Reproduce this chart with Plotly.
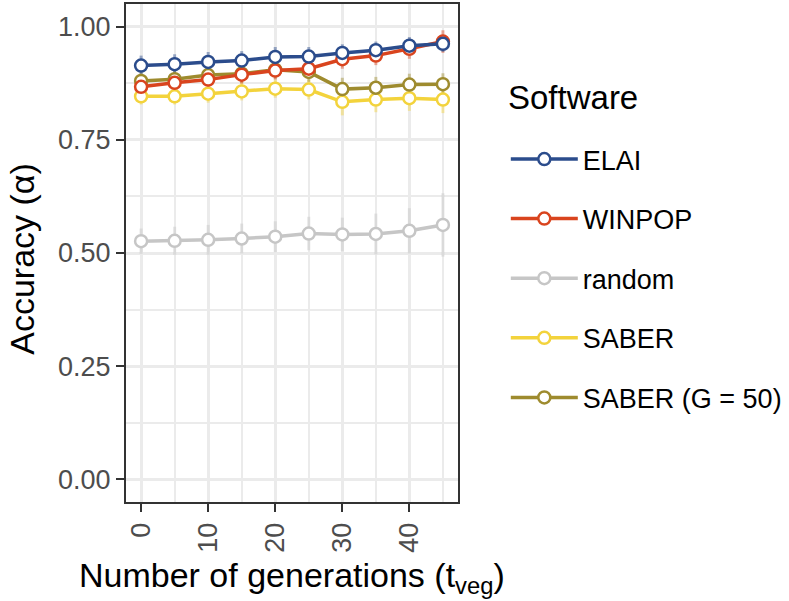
import plotly.graph_objects as go

generations = [0, 5, 10, 15, 20, 25, 30, 35, 40, 45]

series_names = ["ELAI", "WINPOP", "random", "SABER", "SABER (G = 50)"]

elai = [0.914, 0.917, 0.922, 0.925, 0.933, 0.934, 0.942, 0.948, 0.958, 0.962]
elai_err = [0.022, 0.022, 0.022, 0.021, 0.022, 0.021, 0.019, 0.019, 0.019, 0.018]

winpop = [0.867, 0.876, 0.883, 0.894, 0.903, 0.907, 0.928, 0.936, 0.951, 0.967]
winpop_err = [0.02, 0.02, 0.02, 0.02, 0.02, 0.02, 0.021, 0.021, 0.022, 0.025]

random_acc = [0.526, 0.527, 0.529, 0.532, 0.536, 0.543, 0.541, 0.542, 0.549, 0.562]
random_err = [0.028, 0.031, 0.033, 0.033, 0.034, 0.037, 0.037, 0.045, 0.05, 0.07]

saber = [0.846, 0.846, 0.852, 0.857, 0.863, 0.861, 0.834, 0.839, 0.842, 0.839]
saber_err = [0.018, 0.018, 0.02, 0.02, 0.02, 0.022, 0.03, 0.028, 0.028, 0.03]

saber50 = [0.880, 0.884, 0.893, 0.896, 0.905, 0.900, 0.862, 0.865, 0.872, 0.873]
saber50_err = [0.02, 0.02, 0.02, 0.02, 0.02, 0.022, 0.025, 0.024, 0.024, 0.024]

colors = {
    "ELAI": (43, 76, 140),
    "WINPOP": (217, 68, 30),
    "random": (198, 198, 198),
    "SABER": (243, 211, 60),
    "SABER (G = 50)": (158, 139, 46),
}
values = {
    "ELAI": (elai, elai_err),
    "WINPOP": (winpop, winpop_err),
    "random": (random_acc, random_err),
    "SABER": (saber, saber_err),
    "SABER (G = 50)": (saber50, saber50_err),
}

draw_order = ["random", "SABER", "SABER (G = 50)", "WINPOP", "ELAI"]

fig = go.Figure()

# error bars layer (drawn first)
for name in draw_order:
    y, e = values[name]
    r, g, b = colors[name]
    fig.add_trace(go.Scatter(
        x=generations, y=y, mode="markers",
        marker=dict(opacity=0, size=1),
        error_y=dict(type="data", array=e, visible=True, width=0, thickness=3,
                     color=f"rgba({r},{g},{b},0.45)"),
        showlegend=False, hoverinfo="skip",
    ))

for name in draw_order:
    y, e = values[name]
    r, g, b = colors[name]
    c = f"rgb({r},{g},{b})"
    fig.add_trace(go.Scatter(
        x=generations, y=y, mode="lines+markers", name=name,
        line=dict(color=c, width=3.5),
        marker=dict(symbol="circle", size=12, color="white",
                    line=dict(color=c, width=2.5)),
        legendgroup=name, legendrank=series_names.index(name) + 1,
    ))

font_family = "Liberation Sans, Arial, sans-serif"

fig.update_layout(
    width=789, height=601,
    margin=dict(l=126, r=329, t=2, b=99),
    paper_bgcolor="white", plot_bgcolor="white",
    font=dict(family=font_family),
    showlegend=True,
    legend=dict(
        x=1.144, y=0.737, xanchor="left", yanchor="top",
        font=dict(size=27, color="black", family=font_family),
        tracegroupgap=21.5,
        itemwidth=67,
    ),
    xaxis=dict(
        range=[-2.25, 47.25], tickvals=[0, 10, 20, 30, 40],
        ticktext=["0", "10", "20", "30", "40"],
        tickangle=-90, ticks="outside", ticklen=8, tickwidth=2, tickcolor="#333333",
        tickfont=dict(size=27, color="#4D4D4D"),
        showgrid=True, gridcolor="#EBEBEB", gridwidth=2.5,
        minor=dict(dtick=5, tick0=0, showgrid=True, gridcolor="#EBEBEB", gridwidth=1.5, ticks=""),
        showline=True, linecolor="#333333", linewidth=2, mirror=True,
        zeroline=False,
    ),
    yaxis=dict(
        range=[-0.05, 1.05], tickvals=[0, 0.25, 0.5, 0.75, 1.0],
        ticktext=["0.00", "0.25", "0.50", "0.75", "1.00"],
        ticks="outside", ticklen=8, tickwidth=2, tickcolor="#333333",
        tickfont=dict(size=27, color="#4D4D4D"),
        showgrid=True, gridcolor="#EBEBEB", gridwidth=2.5,
        minor=dict(dtick=0.125, tick0=0, showgrid=True, gridcolor="#EBEBEB", gridwidth=1.5, ticks=""),
        showline=True, linecolor="#333333", linewidth=2, mirror=True,
        zeroline=False,
    ),
    annotations=[
        dict(text="Number of generations (t<sub>veg</sub>)", xref="paper", yref="paper",
             x=0.5, y=-0.152, xanchor="center", yanchor="middle", showarrow=False,
             font=dict(size=34, color="black")),
        dict(text="Accuracy (α)", xref="paper", yref="paper", textangle=-90,
             x=-0.314, y=0.488, xanchor="center", yanchor="middle", showarrow=False,
             font=dict(size=34, color="black")),
        dict(text="Software", xref="paper", yref="paper",
             x=1.144, y=0.812, xanchor="left", yanchor="middle", showarrow=False,
             font=dict(size=33, color="black")),
    ],
)

fig.write_html("out.html", config={"displayModeBar": False},
               post_script="document.body.style.margin='0';")
